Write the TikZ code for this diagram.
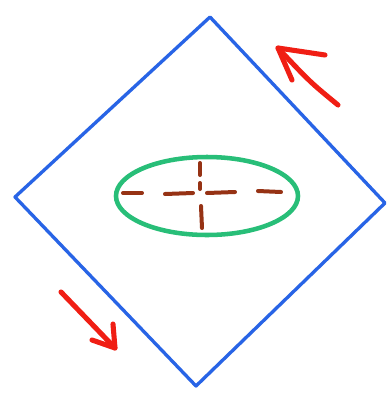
\documentclass[tikz,border=0pt]{standalone}
\begin{document}
\begin{tikzpicture}[x=0.75pt,y=-0.75pt,
  frame/.style={draw={rgb,255:red,40;green,100;blue,230},line width=2.5pt,line join=round,line cap=round},
  ring/.style={draw={rgb,255:red,40;green,190;blue,120},line width=3.4pt},
  axis/.style={draw={rgb,255:red,150;green,50;blue,20},line width=3pt,line cap=round},
  redarrow/.style={draw={rgb,255:red,240;green,30;blue,20},line width=3.8pt,line cap=round,line join=round}]
\useasboundingbox (0,0) rectangle (392,405);
\fill[white] (0,0) rectangle (392,405);
\coordinate (T) at (210,17);
\coordinate (R) at (385,203);
\coordinate (B) at (196,386);
\coordinate (L) at (15,197);
\draw[frame] (T) -- (R) -- (B) -- (L) -- cycle;
\coordinate (E) at (207,196);
\draw[ring] (E) ellipse [x radius=91, y radius=39];
\draw[axis] (123,193) -- (142,193);
\draw[axis] (165,194) -- (193,193);
\draw[axis] (207,193) -- (235,192);
\draw[axis] (258,191) -- (281,192);
\draw[axis] (200,163) -- (200,175);
\draw[axis] (200,183) -- (200,189);
\draw[axis] (201,206) -- (202,228);
\coordinate (A1s) at (338,105);
\coordinate (A1t) at (278,48);
\coordinate (A1a) at (325,55);
\coordinate (A1b) at (292,80);
\draw[redarrow] (A1s) .. controls (310,82) .. (A1t);
\draw[redarrow] (A1a) -- (A1t) -- (A1b);
\coordinate (A2s) at (61,292);
\coordinate (A2t) at (115,348);
\coordinate (A2a) at (113,324);
\coordinate (A2b) at (92,340);
\draw[redarrow] (A2s) -- (A2t);
\draw[redarrow] (A2a) -- (A2t) -- (A2b);
\end{tikzpicture}
\end{document}
